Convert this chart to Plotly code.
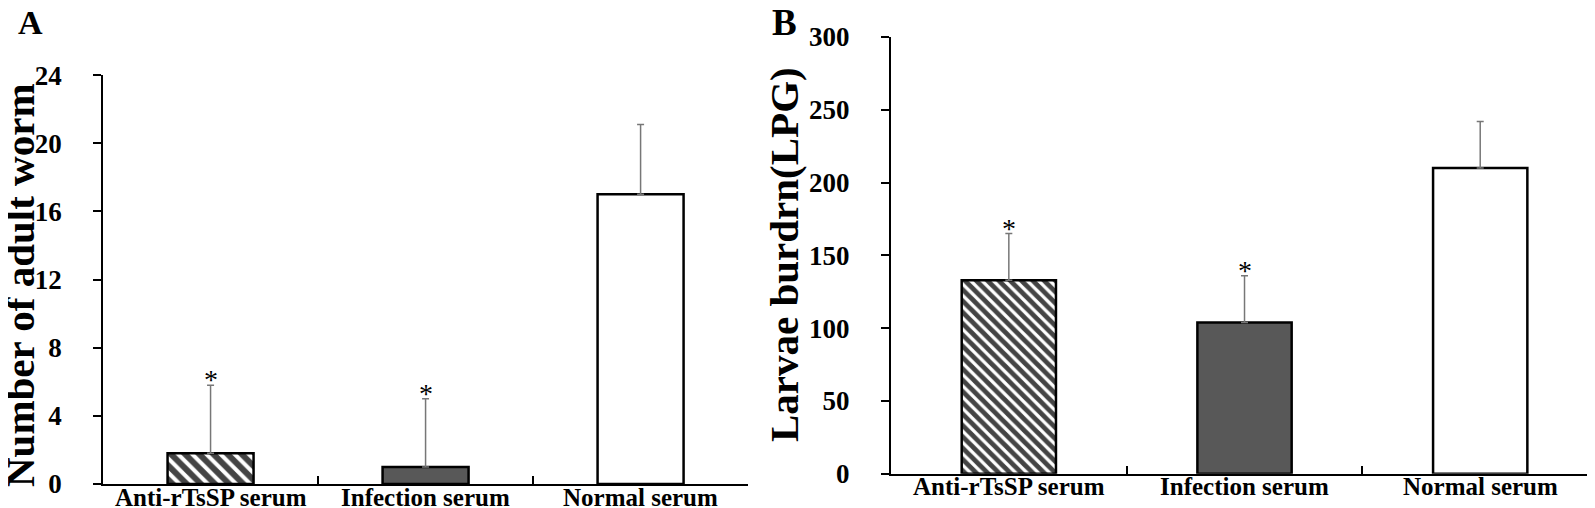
import plotly.graph_objects as go

categories = ["Anti-rTsSP serum", "Infection serum", "Normal serum"]
worm_mean = [1.8, 1.0, 17.0]
worm_err = [4.0, 4.0, 4.1]
larvae_mean = [133, 104, 210]
larvae_err = [32, 32, 32]
significant = [True, True, False]

serif = "Liberation Serif, Times New Roman, serif"
fills = ["white", "#585858", "white"]
hatch = ["\\", "", ""]


def add_bars(fig, means, errs, xa, ya, hatch_size, label_y):
    fig.add_trace(go.Bar(
        x=categories, y=means, width=0.4,
        xaxis=xa, yaxis=ya, showlegend=False,
        marker=dict(color=fills, line=dict(color="black", width=2.5),
                    pattern=dict(shape=hatch, fgcolor="black", bgcolor="white",
                                 fgopacity=1, size=hatch_size, solidity=0.6)),
        error_y=dict(type="data", symmetric=False, array=errs,
                     arrayminus=[0] * len(errs), color="#777777",
                     thickness=1.5, width=3.5),
    ))
    for cat, m, e, sig in zip(categories, means, errs, significant):
        if sig:
            fig.add_annotation(x=cat, y=m + e, xref=xa, yref=ya, text="*",
                               showarrow=False, yanchor="bottom", yshift=-12,
                               font=dict(family=serif, size=28, color="black"))
        # category labels sit closer to the axis than plotly's tick labels
        fig.add_annotation(x=cat, y=label_y, xref=xa, yref="paper", text=cat,
                           showarrow=False, xanchor="center", yanchor="middle",
                           font=dict(family=serif, size=25, color="black",
                                     weight="bold"))


fig = go.Figure()
add_bars(fig, worm_mean, worm_err, "x", "y", 10, 1 - 489 / 508)
add_bars(fig, larvae_mean, larvae_err, "x2", "y2", 8, 1 - 478 / 508)

xcommon = dict(type="category", showline=True, linecolor="black", linewidth=2,
               ticks="inside", tickson="boundaries", ticklen=8, tickwidth=2,
               tickcolor="black", showgrid=False, zeroline=False, automargin=False,
               showticklabels=False)
ycommon = dict(showline=True, linecolor="black", linewidth=2, ticks="outside",
               ticklen=8, tickwidth=2, tickcolor="black", showgrid=False,
               zeroline=False, ticklabelstandoff=26, automargin=False,
               tickfont=dict(family=serif, size=27, color="black", weight="bold"))

fig.update_layout(
    width=1595, height=508,
    margin=dict(l=0, r=0, t=0, b=0, pad=0, autoexpand=False),
    paper_bgcolor="white", plot_bgcolor="white",
    bargap=0.6,
    xaxis=dict(domain=[0.0596, 0.464], anchor="y", **xcommon),
    yaxis=dict(domain=[0.063, 0.868], anchor="x", range=[0, 24],
               tickvals=[0, 4, 8, 12, 16, 20, 24], **ycommon),
    xaxis2=dict(domain=[0.5536, 0.9969], anchor="y2", **xcommon),
    yaxis2=dict(domain=[0.083, 0.943], anchor="x2", range=[0, 300],
                tickvals=[0, 50, 100, 150, 200, 250, 300], **ycommon),
)

fig.add_annotation(x=12 / 1595, y=1 - 277 / 508, xref="paper", yref="paper",
                   xanchor="center", yanchor="middle",
                   text="Number of adult worm", textangle=-90, showarrow=False,
                   font=dict(family=serif, size=41, color="black", weight="bold"))
fig.add_annotation(x=776 / 1595, y=1 - 247 / 508, xref="paper", yref="paper",
                   xanchor="center", yanchor="middle",
                   text="Larvae burdrn(LPG)", textangle=-90, showarrow=False,
                   font=dict(family=serif, size=41, color="black", weight="bold"))
fig.add_annotation(x=22 / 1595, y=1 - 15 / 508, xref="paper", yref="paper",
                   xanchor="center", yanchor="middle",
                   text="A", showarrow=False,
                   font=dict(family=serif, size=34, color="black", weight="bold"))
fig.add_annotation(x=776 / 1595, y=1 - 15 / 508, xref="paper", yref="paper",
                   xanchor="center", yanchor="middle",
                   text="B", showarrow=False,
                   font=dict(family=serif, size=37, color="black", weight="bold"))

fig.write_html("out.html")
